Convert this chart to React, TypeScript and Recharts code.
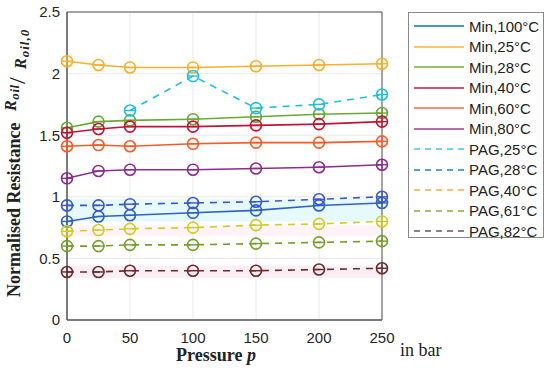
import { LineChart, Line, XAxis, YAxis, CartesianGrid, ReferenceArea, Label } from 'recharts';

const pressure = [0, 25, 50, 100, 150, 200, 250];

const min100 = [0.8, 0.84, 0.85, 0.87, 0.89, 0.93, 0.95];
const min25 = [2.1, 2.07, 2.05, 2.05, 2.06, 2.07, 2.08];
const min28 = [1.56, 1.61, 1.62, 1.63, 1.65, 1.67, 1.68];
const min40 = [1.52, 1.55, 1.57, 1.57, 1.58, 1.59, 1.61];
const min60 = [1.41, 1.42, 1.41, 1.43, 1.44, 1.44, 1.45];
const min80 = [1.15, 1.21, 1.22, 1.22, 1.23, 1.24, 1.26];
const pag25 = [null, null, 1.7, 1.98, 1.72, 1.75, 1.83];
const pag28 = [0.93, 0.93, 0.94, 0.95, 0.96, 0.98, 1.0];
const pag40 = [0.72, 0.73, 0.74, 0.75, 0.77, 0.78, 0.8];
const pag61 = [0.6, 0.6, 0.61, 0.61, 0.62, 0.63, 0.64];
const pag82 = [0.39, 0.39, 0.4, 0.4, 0.4, 0.41, 0.42];

const xTicks = [0, 50, 100, 150, 200, 250];
const yTicks = [0, 0.5, 1, 1.5, 2, 2.5];

const series = [
  { key: 'min100', name: 'Min,100°C', values: min100, color: '#2f62c4', legend: '#0a72b8', dashed: false },
  { key: 'min25', name: 'Min,25°C', values: min25, color: '#f7b02a', legend: '#fbb232', dashed: false },
  { key: 'min28', name: 'Min,28°C', values: min28, color: '#68aa34', legend: '#74ac3a', dashed: false },
  { key: 'min40', name: 'Min,40°C', values: min40, color: '#c2133a', legend: '#cc1440', dashed: false },
  { key: 'min60', name: 'Min,60°C', values: min60, color: '#fb5a26', legend: '#f56a3c', dashed: false },
  { key: 'min80', name: 'Min,80°C', values: min80, color: '#8c2c8e', legend: '#9c3c90', dashed: false },
  { key: 'pag25', name: 'PAG,25°C', values: pag25, color: '#1ec0e2', legend: '#38cbe0', dashed: true },
  { key: 'pag28', name: 'PAG,28°C', values: pag28, color: '#3a58c8', legend: '#1a84c2', dashed: true },
  { key: 'pag40', name: 'PAG,40°C', values: pag40, color: '#d2cc22', legend: '#ffa638', dashed: true },
  { key: 'pag61', name: 'PAG,61°C', values: pag61, color: '#74a02a', legend: '#8aaa3c', dashed: true },
  { key: 'pag82', name: 'PAG,82°C', values: pag82, color: '#6e2a28', legend: '#6a5a52', dashed: true },
];

const data = pressure.map((p, i) => {
  const row: any = { p };
  series.forEach((s) => { row[s.key] = s.values[i]; });
  return row;
});

const makeDot = (color: string, key: string) => (props: any) => {
  const { cx, cy, index, value } = props;
  if (cx == null || cy == null || value == null) return <g key={`${key}-${index}`} />;
  const cross = index === 0 || index === pressure.length - 1;
  return (
    <g key={`${key}-${index}`}>
      <circle cx={cx} cy={cy} r={5.5} fill="none" stroke={color} strokeWidth={1.6} />
      <line x1={cx - 6} x2={cx + 6} y1={cy} y2={cy} stroke={color} strokeWidth={1.4} />
      {cross && <line x1={cx} x2={cx} y1={cy - 6} y2={cy + 6} stroke={color} strokeWidth={1.4} />}
    </g>
  );
};

const YLabel = () => (
  <g transform="translate(20, 297) rotate(-90)" fontFamily="'Liberation Serif', serif" fontWeight="bold" fill="#222">
    <text x={0} y={0} fontSize={18}>Normalised Resistance</text>
    <text x={186} y={-4} fontSize={16} fontStyle="italic" letterSpacing={0.6}>
      R<tspan fontSize={13} dy={3}>oil</tspan>
    </text>
    <text x={213} y={5} fontSize={24} fontWeight="normal">/</text>
    <text x={228} y={6} fontSize={16} fontStyle="italic" letterSpacing={1}>
      R<tspan fontSize={13} dy={3}>oil,0</tspan>
    </text>
  </g>
);

const XLabel = () => (
  <g fontFamily="'Liberation Serif', serif" fill="#222">
    <text x={216} y={361} fontSize={18} fontWeight="bold" textAnchor="middle">
      Pressure <tspan fontStyle="italic">p</tspan>
    </text>
    <text x={400} y={356} fontSize={18}>in bar</text>
  </g>
);

function LegendBox() {
  return (
    <div
      style={{
        position: 'absolute',
        left: 408,
        top: 12,
        width: 136,
        height: 226,
        border: '1px solid #888',
        background: '#fff',
        boxSizing: 'border-box',
        paddingTop: 3,
        fontFamily: "'Liberation Sans', Arial, sans-serif",
        fontSize: 15,
        color: '#222',
      }}
    >
      {series.map((s) => (
        <div key={s.key} style={{ display: 'flex', alignItems: 'center', height: 20.5 }}>
          <svg width={60} height={6} style={{ marginLeft: 4 }}>
            <line x1={1} x2={51} y1={3} y2={3} stroke={s.legend} strokeWidth={1.6} strokeDasharray={s.dashed ? '6 5' : undefined} />
          </svg>
          <span style={{ marginLeft: -4 }}>{s.name}</span>
        </div>
      ))}
    </div>
  );
}

export default function App() {
  return (
    <div style={{ position: 'absolute', left: 0, top: 0, width: 550, height: 375, background: '#fff' }}>
      <LineChart width={550} height={375} data={data} margin={{ top: 12, right: 168, bottom: 0, left: 0 }}>
        <CartesianGrid stroke="#e8e8e8" strokeWidth={1} />
        <ReferenceArea x1={0} x2={250} y1={0.8} y2={0.98} fill="#c8f2f8" fillOpacity={0.45} stroke="none" />
        <ReferenceArea x1={0} x2={250} y1={0.68} y2={0.77} fill="#fbe0ee" fillOpacity={0.4} stroke="none" />
        <ReferenceArea x1={0} x2={250} y1={0.34} y2={0.44} fill="#fbe0ee" fillOpacity={0.5} stroke="none" />
        <XAxis
          dataKey="p"
          type="number"
          domain={[0, 250]}
          ticks={xTicks}
          height={55}
          tickLine={false}
          tickMargin={6}
          stroke="#555"
          tick={{ fill: '#262626', fontSize: 15, fontFamily: "'Liberation Sans', Arial, sans-serif" }}
        >
          <Label content={<XLabel />} />
        </XAxis>
        <YAxis
          type="number"
          domain={[0, 2.5]}
          ticks={yTicks}
          width={67}
          tickLine={false}
          tickMargin={1}
          stroke="#555"
          tick={{ fill: '#262626', fontSize: 15, fontFamily: "'Liberation Sans', Arial, sans-serif" }}
        >
          <Label content={<YLabel />} />
        </YAxis>
        <ReferenceArea x1={0} x2={250} y1={0} y2={2.5} fill="none" stroke="#555" strokeWidth={1} />
        {series.map((s) => (
          <Line
            key={s.key}
            dataKey={s.key}
            name={s.name}
            stroke={s.color}
            strokeWidth={1.6}
            strokeDasharray={s.dashed ? '7 6' : undefined}
            type="linear"
            dot={makeDot(s.color, s.key)}
            activeDot={false}
            isAnimationActive={false}
          />
        ))}
      </LineChart>
      <LegendBox />
    </div>
  );
}
